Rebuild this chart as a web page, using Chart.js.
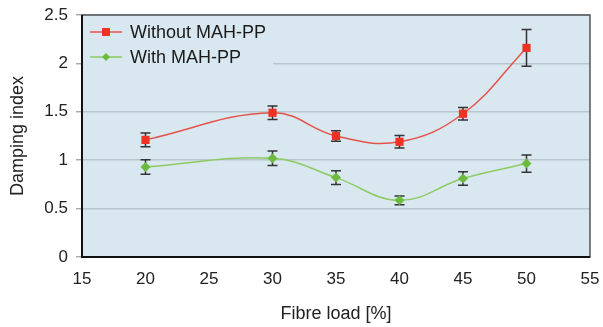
<!DOCTYPE html>
<html>
<head>
<meta charset="utf-8">
<script src="https://cdn.jsdelivr.net/npm/chart.js@4"></script>
<style>
  html, body { margin: 0; padding: 0; background: #fff; }
  #wrap { width: 603px; height: 327px; }
</style>
</head>
<body>
<div id="wrap"><canvas id="myChart" width="603" height="327"></canvas></div>
<script>
const fibreLoad = [20, 30, 35, 40, 45, 50];
const withoutMAH = [1.21, 1.49, 1.25, 1.19, 1.48, 2.16];
const withoutErr = [0.07, 0.07, 0.055, 0.065, 0.065, 0.19];
const withMAH = [0.93, 1.02, 0.82, 0.585, 0.81, 0.965];
const withErr = [0.075, 0.075, 0.07, 0.045, 0.07, 0.09];
const xTicks = [15, 20, 25, 30, 35, 40, 45, 50, 55];
const yTicks = [0, 0.5, 1, 1.5, 2, 2.5];

const plotBg = '#d9e8f0';
const fontFamily = '"Liberation Sans", Arial, sans-serif';

const toPoints = (ys) => ys.map((y, i) => ({ x: fibreLoad[i], y: y }));

// background + border of the plot area
const plotFrame = {
    id: 'plotFrame',
    beforeDraw(chart) {
        const { ctx, chartArea: a } = chart;
        ctx.save();
        ctx.fillStyle = plotBg;
        ctx.fillRect(a.left, a.top, a.right - a.left, a.bottom - a.top);
        ctx.restore();
    },
    afterDraw(chart) {
        const { ctx, chartArea: a } = chart;
        ctx.save();
        ctx.strokeStyle = '#555';
        ctx.lineWidth = 1.5;
        ctx.strokeRect(a.left, a.top, a.right - a.left, a.bottom - a.top);
        ctx.strokeStyle = '#111';
        ctx.lineWidth = 2;
        ctx.beginPath();
        ctx.moveTo(a.left, a.top);
        ctx.lineTo(a.left, a.bottom);
        ctx.lineTo(a.right, a.bottom);
        ctx.stroke();
        ctx.restore();
    }
};

// error bars, drawn under the markers
const errorBars = {
    id: 'errorBars',
    beforeDatasetsDraw(chart) {
        const { ctx, scales } = chart;
        const errs = [withoutErr, withErr];
        ctx.save();
        ctx.strokeStyle = '#333';
        ctx.lineWidth = 1.5;
        chart.data.datasets.forEach((ds, di) => {
            ds.data.forEach((p, i) => {
                const x = scales.x.getPixelForValue(p.x);
                const yTop = scales.y.getPixelForValue(p.y + errs[di][i]);
                const yBot = scales.y.getPixelForValue(p.y - errs[di][i]);
                ctx.beginPath();
                ctx.moveTo(x, yTop); ctx.lineTo(x, yBot);
                ctx.moveTo(x - 5, yTop); ctx.lineTo(x + 5, yTop);
                ctx.moveTo(x - 5, yBot); ctx.lineTo(x + 5, yBot);
                ctx.stroke();
            });
        });
        ctx.restore();
    }
};

// legend inside the plot, top-left
const innerLegend = {
    id: 'innerLegend',
    afterDatasetsDraw(chart) {
        const { ctx, chartArea: a } = chart;
        ctx.save();
        ctx.fillStyle = plotBg;
        ctx.fillRect(a.left + 1, a.top + 1, 190, 54);
        chart.data.datasets.forEach((ds, i) => {
            const y = a.top + 17 + i * 25;
            const x0 = a.left + 8;
            ctx.strokeStyle = ds.borderColor;
            ctx.lineWidth = 1.5;
            ctx.beginPath();
            ctx.moveTo(x0, y); ctx.lineTo(x0 + 32, y);
            ctx.stroke();
            ctx.fillStyle = ds.pointBackgroundColor;
            ctx.beginPath();
            if (ds.pointStyle === 'rect') {
                ctx.rect(x0 + 12, y - 4, 8, 8);
            } else {
                ctx.moveTo(x0 + 16, y - 4); ctx.lineTo(x0 + 20, y);
                ctx.lineTo(x0 + 16, y + 4); ctx.lineTo(x0 + 12, y);
                ctx.closePath();
            }
            ctx.fill();
            ctx.fillStyle = '#1a1a1a';
            ctx.font = '18px ' + fontFamily;
            ctx.textBaseline = 'middle';
            ctx.fillText(ds.label, x0 + 40, y + 1);
        });
        ctx.restore();
    }
};

const data = {
    datasets: [{
        label: 'Without MAH-PP',
        data: toPoints(withoutMAH),
        borderColor: '#e2544a',
        borderWidth: 1.5,
        pointStyle: 'rect',
        pointRadius: 5.8,
        pointBackgroundColor: '#ee3324',
        pointBorderWidth: 0,
        tension: 0.4
    }, {
        label: 'With MAH-PP',
        data: toPoints(withMAH),
        borderColor: '#8dcb62',
        borderWidth: 1.5,
        pointStyle: 'rectRot',
        pointRadius: 5,
        pointBackgroundColor: '#6dbb3e',
        pointBorderWidth: 0,
        tension: 0.4
    }]
};

const config = {
    type: 'line',
    data: data,
    options: {
        responsive: false,
        animation: false,
        layout: { padding: { left: 0, right: 13, top: 15, bottom: 0 } },
        plugins: {
            legend: { display: false },
            tooltip: { enabled: false }
        },
        scales: {
            x: {
                type: 'linear',
                min: 15,
                max: 55,
                afterBuildTicks: (s) => { s.ticks = xTicks.map(v => ({ value: v })); },
                afterFit: (s) => { s.height = 70; s.paddingRight = 0; s.paddingLeft = 0; },
                grid: { display: false, drawOnChartArea: false, drawTicks: true, tickLength: 5, tickColor: '#333', tickWidth: 1.2 },
                border: { display: false },
                ticks: { color: '#222', font: { family: fontFamily, size: 17 }, padding: 7, maxRotation: 0 },
                title: {
                    display: true,
                    text: 'Fibre load [%]',
                    color: '#222',
                    font: { family: fontFamily, size: 18 },
                    padding: { top: 0, bottom: 2 }
                }
            },
            y: {
                min: 0,
                max: 2.5,
                afterBuildTicks: (s) => { s.ticks = yTicks.map(v => ({ value: v })); },
                afterFit: (s) => { s.width = 82; s.paddingTop = 0; s.paddingBottom = 0; },
                grid: { color: '#b8c5cc', lineWidth: 1.5, tickLength: 6, tickColor: '#999', tickWidth: 1.2 },
                border: { display: false },
                ticks: {
                    color: '#222',
                    font: { family: fontFamily, size: 17 },
                    padding: 8,
                    callback: (v) => String(v)
                },
                title: {
                    display: true,
                    text: 'Damping index',
                    color: '#222',
                    font: { family: fontFamily, size: 18 },
                    padding: { top: 7, bottom: 0 }
                }
            }
        }
    },
    plugins: [plotFrame, errorBars, innerLegend]
};

const myChart = new Chart(document.getElementById('myChart').getContext('2d'), config);
</script>
</body>
</html>
